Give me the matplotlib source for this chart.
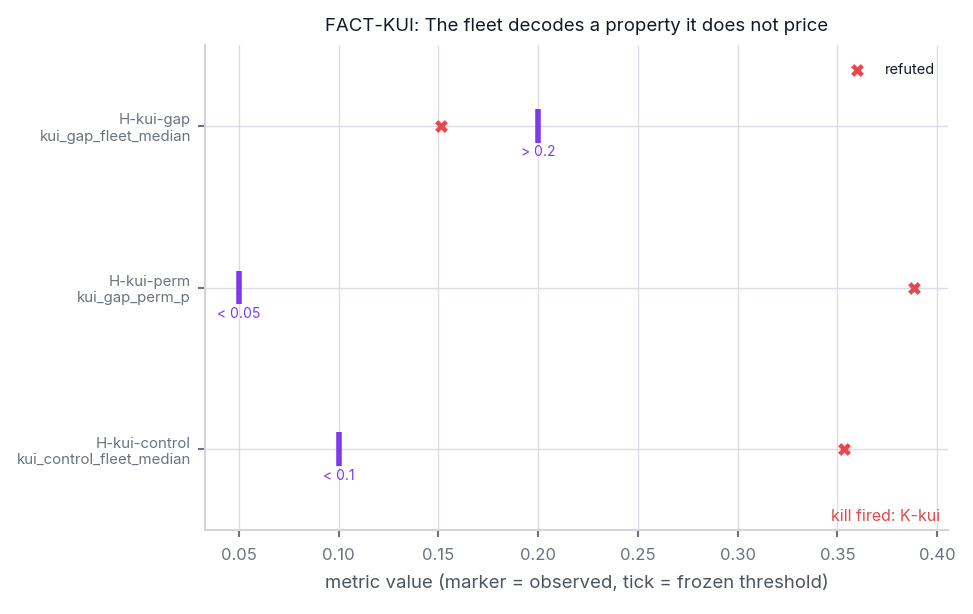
import matplotlib
matplotlib.use("Agg")
import matplotlib.pyplot as plt

# hypotheses, bottom to top
hypotheses = ["H-kui-control", "H-kui-perm", "H-kui-gap"]
metrics = ["kui_control_fleet_median", "kui_gap_perm_p", "kui_gap_fleet_median"]
observed = [0.3535, 0.3885, 0.1515]
thresholds = [0.1, 0.05, 0.2]
threshold_labels = ["< 0.1", "< 0.05", "> 0.2"]
x_ticks = [0.05, 0.10, 0.15, 0.20, 0.25, 0.30, 0.35, 0.40]

plt.rcParams["font.family"] = ["Inter", "DejaVu Sans"]

RED = "#e5484d"
PURPLE = "#7c3aed"
GRID = "#dcdce6"
TEXT = "#6b7280"

fig = plt.figure(figsize=(9.73, 6.14), dpi=100)
ax = fig.add_axes([0.2107, 0.1368, 0.7636, 0.7899])

ys = list(range(len(hypotheses)))

ax.scatter(observed, ys, marker="X", s=85, color=RED, linewidths=0, zorder=3, label="refuted")
ax.vlines(thresholds, [y - 0.105 for y in ys], [y + 0.105 for y in ys],
          color=PURPLE, linewidth=4, zorder=3)
for t, y, lab in zip(thresholds, ys, threshold_labels):
    ax.text(t, y - 0.12, lab, color=PURPLE, fontsize=10, ha="center", va="top", zorder=4)

ax.set_ylim(-0.5, 2.5)
ax.set_yticks(ys)
ax.set_yticklabels([f"{h}\n{m}" for h, m in zip(hypotheses, metrics)], fontsize=10.8, color=TEXT)
ax.set_xticks(x_ticks)
ax.set_xticklabels([f"{v:.2f}" for v in x_ticks], fontsize=12, color=TEXT)
ax.margins(x=0.05)

ax.grid(True, color=GRID, linewidth=1)
ax.set_axisbelow(True)
for s in ["top", "right"]:
    ax.spines[s].set_visible(False)
for s in ["left", "bottom"]:
    ax.spines[s].set_color("#d4d4dc")
    ax.spines[s].set_linewidth(1.5)
ax.tick_params(axis="x", length=5, width=1.5, color="#6b7280", pad=8)
ax.tick_params(axis="y", length=5, width=1.5, color="#6b7280", pad=5)

ax.set_xlabel("metric value (marker = observed, tick = frozen threshold)", fontsize=13.4, color="#4b5563", labelpad=8)
ax.set_title("FACT-KUI: The fleet decodes a property it does not price", fontsize=13.4, color="#111827", pad=10)

ax.text(0.99, 0.012, "kill fired: K-kui", transform=ax.transAxes, ha="right", va="bottom",
        color=RED, fontsize=11.5)
ax.legend(loc="upper right", bbox_to_anchor=(1.0, 0.99), frameon=False, fontsize=10.5,
          handletextpad=0.9, borderaxespad=0.5, labelcolor="#111827")

fig.savefig("out.png", dpi=100)
